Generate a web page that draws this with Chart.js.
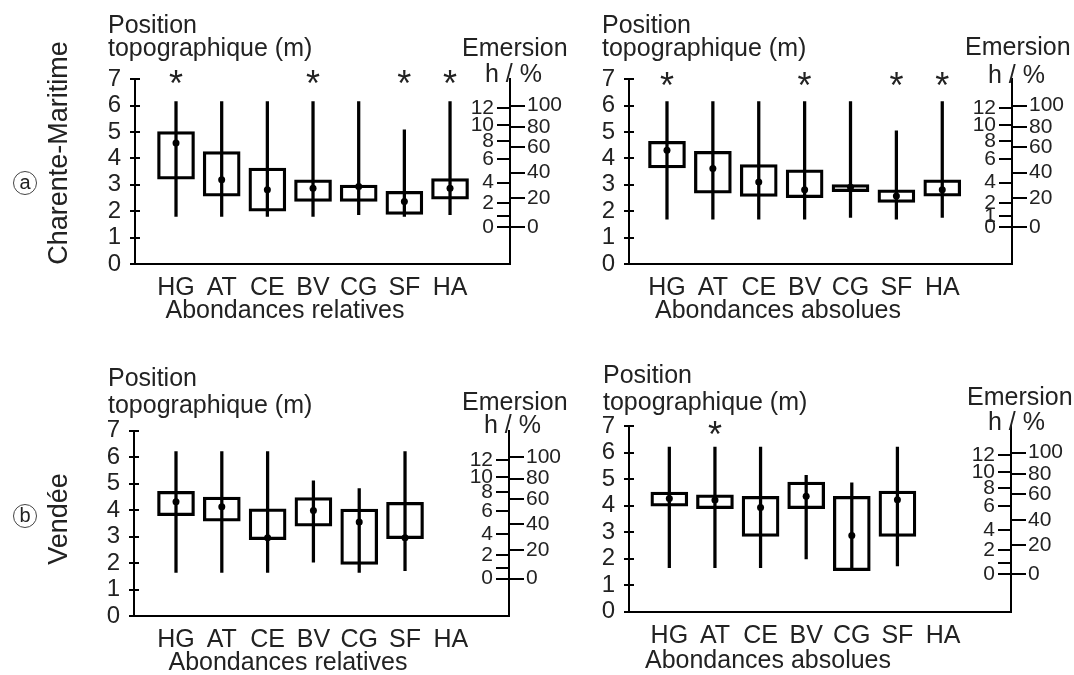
<!DOCTYPE html>
<html><head><meta charset="utf-8">
<script src="https://cdn.jsdelivr.net/npm/chart.js@4.4.0/dist/chart.umd.min.js"></script>
<style>
html,body{margin:0;padding:0;background:#fff;}
#wrap{position:relative;width:1074px;height:675px;overflow:hidden;font-family:"Liberation Sans",Arial,sans-serif;color:#222;}
#wrap canvas{position:absolute;left:0;top:0;}
.t{position:absolute;white-space:nowrap;line-height:1;font-size:25px;}
.rot{position:absolute;white-space:nowrap;line-height:1;font-size:27px;transform:translate(-50%,-50%) rotate(-90deg);}
.circ{position:absolute;width:24px;height:24px;border:1px solid #444;border-radius:50%;font-size:20px;line-height:21px;text-align:center;box-sizing:border-box;transform:translate(-50%,-50%);}
</style></head><body><div id="wrap">
<div class="circ" style="left:25px;top:183px;">a</div>
<div class="rot" style="left:58px;top:153px;">Charente-Maritime</div>
<div class="circ" style="left:25px;top:515.5px;">b</div>
<div class="rot" style="left:58px;top:519px;">Vendée</div>

<div class="t" style="left:108px;top:12px;">Position</div>
<div class="t" style="left:108px;top:35px;">topographique (m)</div>
<div class="t" style="left:462px;top:35px;">Emersion</div>
<div class="t" style="left:485px;top:61px;">h / %</div>
<div class="t" style="left:285px;top:297px;transform:translateX(-50%);">Abondances relatives</div>

<div class="t" style="left:602px;top:12px;">Position</div>
<div class="t" style="left:602px;top:35px;">topographique (m)</div>
<div class="t" style="left:965px;top:34px;">Emersion</div>
<div class="t" style="left:988px;top:62px;">h / %</div>
<div class="t" style="left:778px;top:297px;transform:translateX(-50%);">Abondances absolues</div>

<div class="t" style="left:108px;top:365px;">Position</div>
<div class="t" style="left:108px;top:392px;">topographique (m)</div>
<div class="t" style="left:462px;top:389px;">Emersion</div>
<div class="t" style="left:484px;top:412px;">h / %</div>
<div class="t" style="left:288px;top:649px;transform:translateX(-50%);">Abondances relatives</div>

<div class="t" style="left:603px;top:362px;">Position</div>
<div class="t" style="left:603px;top:389px;">topographique (m)</div>
<div class="t" style="left:967px;top:384px;">Emersion</div>
<div class="t" style="left:988px;top:409px;">h / %</div>
<div class="t" style="left:768px;top:647px;transform:translateX(-50%);">Abondances absolues</div>
</div>
<script>
// ---------- data ----------
const categories = ['HG','AT','CE','BV','CG','SF','HA'];
const yTickValues = [0,1,2,3,4,5,6,7];
const emersionHElev = [1.41,1.82,2.31,3.08,3.97,4.67,5.26,5.90];
const emersionHLabelsA = ['0','','2','4','6','8','10','12'];
const emersionHLabelsB = ['0','1','2','4','6','8','10','12'];
const emersionPctElev = [1.41,2.50,3.46,4.43,5.19,6.00];
const emersionPctLabels = ['0','20','40','60','80','100'];

// Charente-Maritime, abondances relatives
const cmRelMin = [1.80,1.80,1.80,1.80,1.87,1.80,1.87];
const cmRelQ1  = [3.21,2.57,2.00,2.37,2.37,1.88,2.46];
const cmRelMed = [4.58,3.19,2.81,2.87,2.94,2.37,2.87];
const cmRelQ3  = [5.02,4.26,3.63,3.19,2.99,2.75,3.24];
const cmRelMax = [6.15,6.15,6.15,6.15,6.15,5.08,6.15];
const cmRelStars = ['HG','BV','SF','HA'];
const cmRelStarLevel = 7.15;

// Charente-Maritime, abondances absolues
const cmAbsMin = [1.70,1.70,1.70,1.70,1.76,1.70,1.76];
const cmAbsQ1  = [3.64,2.68,2.56,2.51,2.74,2.33,2.57];
const cmAbsMed = [4.31,3.62,3.11,2.81,2.91,2.58,2.81];
const cmAbsQ3  = [4.65,4.27,3.77,3.57,3.01,2.81,3.19];
const cmAbsMax = [6.15,6.15,6.15,6.15,6.15,5.04,6.15];
const cmAbsStars = ['HG','BV','SF','HA'];
const cmAbsStarLevel = 7.08;

// Vendée, abondances relatives
const veRelMin = [1.65,1.65,1.65,2.03,1.65,1.71,null];
const veRelQ1  = [3.79,3.58,2.88,3.39,1.95,2.92,null];
const veRelMed = [4.32,4.13,2.96,3.99,3.55,2.96,null];
const veRelQ3  = [4.71,4.49,4.05,4.47,4.04,4.29,null];
const veRelMax = [6.21,6.21,6.21,5.11,4.81,6.21,null];
const veRelStars = [];
const veRelStarLevel = 7.0;

// Vendée, abondances absolues
const veAbsMin = [1.66,1.66,1.66,1.99,1.66,1.73,null];
const veAbsQ1  = [3.98,3.88,2.84,3.88,1.55,2.84,null];
const veAbsMed = [4.27,4.21,3.93,4.35,2.87,4.22,null];
const veAbsQ3  = [4.51,4.41,4.35,4.89,4.35,4.55,null];
const veAbsMax = [6.21,6.21,6.21,5.14,4.86,6.21,null];
const veAbsStars = ['AT'];
const veAbsStarLevel = 6.98;

// ---------- layout (pixels) ----------
const panels = [
  {min:cmRelMin,q1:cmRelQ1,med:cmRelMed,q3:cmRelQ3,max:cmRelMax,stars:cmRelStars,starLevel:cmRelStarLevel,hLabels:emersionHLabelsA,
   area:{left:135,right:510,top:79.2,bottom:264},xMin:-0.898,xMax:7.313},
  {min:cmAbsMin,q1:cmAbsQ1,med:cmAbsMed,q3:cmAbsQ3,max:cmAbsMax,stars:cmAbsStars,starLevel:cmAbsStarLevel,hLabels:emersionHLabelsB,
   area:{left:629,right:1012,top:79.2,bottom:264},xMin:-0.828,xMax:7.52},
  {min:veRelMin,q1:veRelQ1,med:veRelMed,q3:veRelQ3,max:veRelMax,stars:veRelStars,starLevel:veRelStarLevel,hLabels:emersionHLabelsA,
   area:{left:134,right:509,top:430.7,bottom:616},xMin:-0.917,xMax:7.27},
  {min:veAbsMin,q1:veAbsQ1,med:veAbsMed,q3:veAbsQ3,max:veAbsMax,stars:veAbsStars,starLevel:veAbsStarLevel,hLabels:emersionHLabelsA,
   area:{left:629,right:1011,top:426,bottom:611.7},xMin:-0.884,xMax:7.49}
];

const FONT = '"Liberation Sans", Arial, sans-serif';
const INK = '#222';

const starPlugin = {
  id: 'stars',
  afterDatasetsDraw(chart, args, opts) {
    const ctx = chart.ctx, xs = chart.scales.x, ys = chart.scales.y;
    const size = 36;
    ctx.save();
    ctx.font = size + 'px ' + FONT;
    ctx.fillStyle = INK;
    ctx.textAlign = 'center';
    ctx.textBaseline = 'alphabetic';
    (opts.stars || []).forEach(c => {
      const i = categories.indexOf(c);
      ctx.fillText('*', xs.getPixelForValue(i), ys.getPixelForValue(opts.level) + 0.58 * size);
    });
    ctx.restore();
  }
};

const wrap = document.getElementById('wrap');
const Wy = 40, Wp = 70, Hx = 50;

panels.forEach(p => {
  const canvas = document.createElement('canvas');
  canvas.width = 1074; canvas.height = 675;
  wrap.insertBefore(canvas, wrap.firstChild);
  const idx = categories.map((c, i) => i).filter(i => p.min[i] != null);
  const whiskers = idx.map(i => ({x: i, y: [p.min[i], p.max[i]]}));
  const boxes = idx.map(i => ({x: i, y: [p.q1[i], p.q3[i]]}));
  const meds = idx.map(i => ({x: i, y: p.med[i]}));
  const pxPerX = (p.area.right - p.area.left) / (p.xMax - p.xMin);
  const setTicks = vals => s => { s.ticks = vals.map(v => ({value: v})); };

  new Chart(canvas, {
    type: 'bar',
    data: {
      datasets: [
        {type: 'bar', data: whiskers, barThickness: 2.6, backgroundColor: '#000', borderWidth: 0, grouped: false, order: 3},
        {type: 'bar', data: boxes, barThickness: 37, backgroundColor: 'rgba(255,255,255,0)', borderColor: '#000',
         borderWidth: 2.6, borderSkipped: false, grouped: false, order: 2},
        {type: 'scatter', data: meds, pointRadius: 3.5, pointBackgroundColor: '#000', pointBorderWidth: 0, order: 1}
      ]
    },
    options: {
      responsive: false, animation: false, events: [],
      layout: {padding: {left: p.area.left - Wy, top: p.area.top, right: 1074 - p.area.right - Wp, bottom: 675 - p.area.bottom - Hx}},
      plugins: {legend: {display: false}, tooltip: {enabled: false}, stars: {stars: p.stars, level: p.starLevel}},
      scales: {
        x: {type: 'linear', min: p.xMin, max: p.xMax, offset: false,
            afterBuildTicks: setTicks(categories.map((c, i) => i)),
            afterFit: s => { s.height = Hx; },
            grid: {display: false, drawTicks: false, offset: false},
            border: {display: true, color: '#000', width: 2},
            ticks: {autoSkip: false, maxRotation: 0, padding: 9, color: INK, font: {family: FONT, size: 25},
                    callback: v => categories[v] ?? ''}},
        y: {type: 'linear', position: 'left', min: 0, max: 7,
            afterBuildTicks: setTicks(yTickValues),
            afterFit: s => { s.width = Wy; },
            grid: {drawOnChartArea: false, tickLength: 5, color: '#000', lineWidth: 2},
            border: {display: true, color: '#000', width: 2},
            ticks: {autoSkip: false, padding: 9, color: INK, font: {family: FONT, size: 24}}},
        yIn: {axis: 'y', type: 'linear', position: {x: p.xMin + 5 / pxPerX}, min: 0, max: 7,
            afterBuildTicks: setTicks(yTickValues),
            grid: {drawOnChartArea: false, tickLength: 5, color: '#000', lineWidth: 2},
            border: {display: false},
            ticks: {display: false}},
        yH: {axis: 'y', type: 'linear', position: {x: p.xMax}, min: 0, max: 7,
            afterBuildTicks: setTicks(emersionHElev),
            grid: {drawOnChartArea: false, tickLength: 13, color: '#000', lineWidth: 2},
            border: {display: false},
            ticks: {display: false}},
        yHL: {axis: 'y', type: 'linear', position: {x: p.xMax - 16 / pxPerX}, min: 0, max: 7,
            afterBuildTicks: setTicks(emersionHElev),
            grid: {drawOnChartArea: false, drawTicks: false, tickLength: 0},
            border: {display: false},
            ticks: {autoSkip: false, padding: 0, color: INK, font: {family: FONT, size: 21},
                    callback: (v, i) => p.hLabels[i]}},
        yP: {axis: 'y', type: 'linear', position: 'right', min: 0, max: 7,
            afterBuildTicks: setTicks(emersionPctElev),
            afterFit: s => { s.width = Wp; },
            grid: {drawOnChartArea: false, tickLength: 15, color: '#000', lineWidth: 2},
            border: {display: true, color: '#000', width: 2},
            ticks: {autoSkip: false, padding: 2, color: INK, font: {family: FONT, size: 21},
                    callback: (v, i) => emersionPctLabels[i]}}
      }
    },
    plugins: [starPlugin]
  });
});
</script>
</body></html>
